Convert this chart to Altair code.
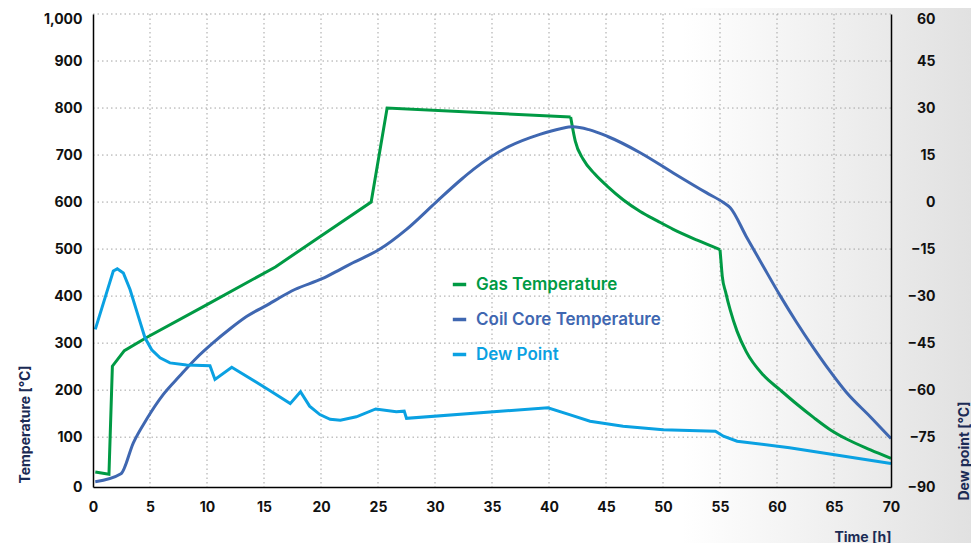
import altair as alt
import pandas as pd

# ---------------- data ----------------
series = ["Gas Temperature", "Coil Core Temperature", "Dew Point"]
colors = ["#009a44", "#3f67b1", "#0aa1e2"]

gas_t = [0.2, 1.4, 1.7, 2.75, 4.7, 10, 16, 20, 24.4, 25.8, 41.9, 42.05, 42.3,
         43.0, 44.0, 45.1, 46.5, 48.0, 49.5, 50.9, 53.0, 55.0, 55.1, 55.2, 55.5,
         55.9, 56.5, 57.3, 58.8, 60.3, 61.7, 63.2, 64.6, 66.1, 68.2, 70]
gas_v = [26, 21, 251, 284, 312, 382, 462, 528, 600, 800, 781, 760, 730,
         691, 660, 634, 605, 580, 560, 542, 519, 499, 470, 442, 408,
         370, 325, 282, 232, 200, 171, 142, 117, 96, 73, 55]
# times where the gas curve changes from straight runs to smooth cooling curves
gas_breaks = [41.9, 55.0]

coil_t = [0.2, 2.45, 3.54, 4.7, 6.17, 7.6, 9.1, 10.55, 12.0, 13.5, 15.5, 16.4,
          17.7, 20.1, 21.7, 22.8, 25.1, 27.5, 30.1, 32.3, 33.4, 36.3, 39.2,
          41.0, 42.1, 43.5, 45.1, 48.0, 50.9, 53.8, 55.3, 55.9, 57.3, 58.8,
          60.3, 61.7, 63.2, 64.6, 66.1, 68.2, 70]
coil_v = [5, 22, 88, 138, 191, 230, 269, 301, 330, 357, 384, 397,
          414, 437, 457, 471, 499, 542, 600, 648, 670, 716, 744,
          756, 760, 754, 740, 705, 662, 620, 599, 588, 527, 463,
          400, 345, 290, 242, 195, 143, 97]

dew_t = [0.2, 1.0, 1.78, 2.13, 2.66, 3.25, 3.97, 4.56, 5.15, 5.88, 6.75, 8.2,
         10.26, 10.7, 12.17, 15.5, 17.3, 18.2, 19.0, 19.9, 20.8, 21.7, 23.1,
         24.8, 26.6, 27.3, 27.5, 39.9, 41.8, 43.6, 46.5, 50.0, 54.6, 55.3,
         56.5, 61.1, 70]
dew_v = [-40.6, -31.2, -22.0, -21.3, -22.6, -27.9, -36.4, -43.3, -47.1, -49.7,
         -51.3, -52.0, -52.2, -56.6, -52.7, -60.1, -64.3, -60.5, -65.1, -67.8,
         -69.3, -69.6, -68.5, -66.0, -66.9, -66.7, -69.0, -65.6, -67.8, -69.9,
         -71.5, -72.6, -73.1, -74.7, -76.3, -78.4, -83.4]

x_ticks = list(range(0, 71, 5))
temp_ticks = list(range(0, 1001, 100))
dew_ticks = list(range(-90, 61, 15))

# ---------------- tables ----------------
gas_df = pd.DataFrame({"t": gas_t, "v": gas_v, "series": series[0]})
b0, b1 = gas_breaks
gas_lin = gas_df[gas_df.t <= b0].assign(seg="g0")
gas_curve = pd.concat([
    gas_df[(gas_df.t >= b0) & (gas_df.t <= b1)].assign(seg="g1"),
    gas_df[gas_df.t >= b1].assign(seg="g2"),
])
coil_df = pd.DataFrame({"t": coil_t, "v": coil_v, "series": series[1], "seg": "c"})
smooth_df = pd.concat([gas_curve, coil_df], ignore_index=True)
smooth_df["i"] = range(len(smooth_df))
gas_lin = gas_lin.reset_index(drop=True)
gas_lin["i"] = range(len(gas_lin))
dew_df = pd.DataFrame({"t": dew_t, "v": dew_v, "series": series[2]})
dew_df["i"] = range(len(dew_df))

FONT = "Inter"
NAVY = "#1b2b55"
W, H = 798, 473

xscale = alt.Scale(domain=[0, 70], nice=False, zero=False)
tscale = alt.Scale(domain=[-6, 1000], nice=False)
dscale = alt.Scale(domain=[-90.9, 60], nice=False)
cscale = alt.Scale(domain=series, range=colors)

common_axis = dict(grid=False, ticks=False, domainColor="#000000", domainWidth=1.5,
                   labelFont=FONT, labelFontSize=14, labelFontWeight="bold",
                   labelColor="#111111", titleFont=FONT, titleFontSize=14,
                   titleFontWeight="bold", titleColor=NAVY, zindex=1)

xaxis = alt.Axis(values=x_ticks, format="d", labelPadding=13, labelFlush=False,
                 title="Time [h]", titleAnchor="end", titleAlign="right",
                 titleX=W, titleY=50, titleBaseline="middle", **common_axis)
taxis = alt.Axis(orient="left", values=temp_ticks, format=",d", labelPadding=11,
                 labelOffset={"expr": "datum.value == 1000 ? 5 : datum.value == 0 ? 3 : 0"},
                 title="Temperature [°C]", titleX=-68, titleY=469, titleAngle=270,
                 titleAlign="left", titleBaseline="middle", **common_axis)
daxis = alt.Axis(orient="right", values=dew_ticks, format="d", labelAlign="right",
                 labelPadding=44,
                 labelOffset={"expr": "datum.value == 60 ? 5 : datum.value == -90 ? 3 : 0"},
                 title="Dew point [°C]", titleX=73, titleY=486,
                 titleAngle=270, titleAlign="left", titleBaseline="middle",
                 **common_axis)

label_expr = ("datum.label == '%s' ? '%s' : datum.label == '%s' ? '%s' : '%s'"
              % (series[0], colors[0], series[1], colors[1], colors[2]))
legend = alt.Legend(orient="none", legendX=358, legendY=262, title=None,
                    symbolType="stroke", symbolSize=180, symbolStrokeWidth=3.5,
                    labelFont=FONT, labelFontSize=17, labelFontWeight=600,
                    labelLimit=400, labelOffset=8, rowPadding=17,
                    labelColor={"expr": label_expr})

X = alt.X("t:Q", scale=xscale, axis=xaxis)
YT = alt.Y("v:Q", scale=tscale, axis=taxis)
YD = alt.Y("v:Q", scale=dscale, axis=daxis)
C = alt.Color("series:N", scale=cscale, legend=legend)

grad = alt.Gradient(
    gradient="linear", x1=0, x2=1, y1=0, y2=0,
    stops=[alt.GradientStop(color="#ffffff", offset=0),
           alt.GradientStop(color="#ffffff", offset=0.70),
           alt.GradientStop(color="#efefef", offset=0.86),
           alt.GradientStop(color="#e1e1e1", offset=1)])

bg = alt.Chart(pd.DataFrame({"a": [0]})).mark_rect(fill=grad, stroke=None).encode(
    x=alt.value(-85), x2=alt.value(W + 80), y=alt.value(-6), y2=alt.value(H + 56))

grid_style = dict(color="#a3a3a3", strokeWidth=1, strokeDash=[1.5, 3])
gx = alt.Chart(pd.DataFrame({"t": x_ticks[1:-1]})).mark_rule(**grid_style).encode(x=X)
gy = alt.Chart(pd.DataFrame({"v": temp_ticks[1:]})).mark_rule(**grid_style).encode(y=YT)

lin_lines = alt.Chart(gas_lin).mark_line(strokeWidth=3).encode(
    x=X, y=YT, color=C, order="i:Q")
smooth_lines = alt.Chart(smooth_df).mark_line(strokeWidth=3, interpolate="monotone").encode(
    x=X, y=YT, color=C, detail="seg:N", order="i:Q")
dew_line = alt.Chart(dew_df).mark_line(strokeWidth=3).encode(
    x=X, y=YD, color=C, order="i:Q")

inner = alt.layer(bg, gx, gy, lin_lines, smooth_lines)
chart = alt.layer(inner, dew_line).resolve_scale(y="independent").properties(
    width=W, height=H,
    autosize=alt.AutoSizeParams(type="none"),
    padding={"left": 85, "top": 6, "right": 80, "bottom": 56},
).configure_view(stroke=None)

chart.save("out.html", embed_options={"renderer": "svg", "actions": False})
